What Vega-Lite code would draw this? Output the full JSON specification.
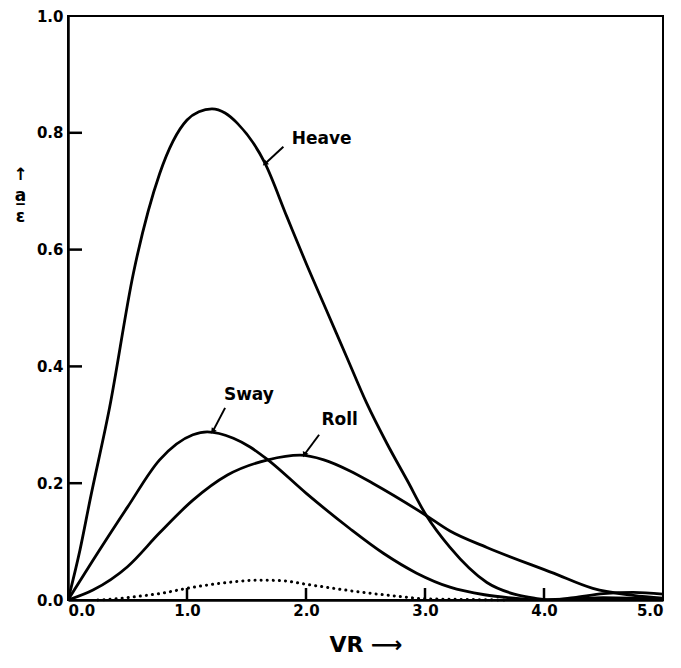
{
  "$schema": "https://vega.github.io/schema/vega-lite/v6.json",
  "width": 595,
  "height": 584,
  "autosize": {"type": "none"},
  "padding": {"left": 68, "top": 16, "right": 18, "bottom": 68},
  "background": "white",
  "config": {
    "view": {"stroke": "black", "strokeWidth": 2},
    "font": "DejaVu Sans",
    "axis": {
      "grid": false,
      "domainColor": "black",
      "domainWidth": 2.5,
      "tickColor": "black",
      "tickWidth": 2,
      "labelColor": "black",
      "labelFont": "DejaVu Sans",
      "labelFontWeight": "bold",
      "labelFontSize": 15,
      "titleColor": "black",
      "titleFont": "DejaVu Sans",
      "titleFontWeight": "bold"
    }
  },
  "datasets": {
    "curves": [
      {"series": "Heave", "vr": 0.0, "v": 0.0},
      {"series": "Heave", "vr": 0.1, "v": 0.085},
      {"series": "Heave", "vr": 0.185, "v": 0.171},
      {"series": "Heave", "vr": 0.35, "v": 0.33},
      {"series": "Heave", "vr": 0.55, "v": 0.56},
      {"series": "Heave", "vr": 0.77, "v": 0.73},
      {"series": "Heave", "vr": 1.0, "v": 0.822},
      {"series": "Heave", "vr": 1.1, "v": 0.836},
      {"series": "Heave", "vr": 1.21, "v": 0.841},
      {"series": "Heave", "vr": 1.32, "v": 0.834},
      {"series": "Heave", "vr": 1.42, "v": 0.817},
      {"series": "Heave", "vr": 1.655, "v": 0.748},
      {"series": "Heave", "vr": 1.84, "v": 0.656},
      {"series": "Heave", "vr": 2.0, "v": 0.577},
      {"series": "Heave", "vr": 2.17, "v": 0.497},
      {"series": "Heave", "vr": 2.34, "v": 0.417},
      {"series": "Heave", "vr": 2.51, "v": 0.337},
      {"series": "Heave", "vr": 2.68, "v": 0.268},
      {"series": "Heave", "vr": 2.85, "v": 0.205},
      {"series": "Heave", "vr": 3.01, "v": 0.145},
      {"series": "Heave", "vr": 3.21, "v": 0.09},
      {"series": "Heave", "vr": 3.52, "v": 0.03},
      {"series": "Heave", "vr": 3.75, "v": 0.01},
      {"series": "Heave", "vr": 3.92, "v": 0.003},
      {"series": "Heave", "vr": 4.05, "v": 0.0},
      {"series": "Heave", "vr": 4.25, "v": 0.004},
      {"series": "Heave", "vr": 4.5, "v": 0.011},
      {"series": "Heave", "vr": 4.75, "v": 0.013},
      {"series": "Heave", "vr": 5.0, "v": 0.01},
      {"series": "Sway", "vr": 0.0, "v": 0.0},
      {"series": "Sway", "vr": 0.21, "v": 0.068},
      {"series": "Sway", "vr": 0.5, "v": 0.159},
      {"series": "Sway", "vr": 0.77, "v": 0.24},
      {"series": "Sway", "vr": 1.05, "v": 0.283},
      {"series": "Sway", "vr": 1.17, "v": 0.288},
      {"series": "Sway", "vr": 1.39, "v": 0.277},
      {"series": "Sway", "vr": 1.53, "v": 0.262},
      {"series": "Sway", "vr": 1.68, "v": 0.24},
      {"series": "Sway", "vr": 2.0, "v": 0.183},
      {"series": "Sway", "vr": 2.37, "v": 0.122},
      {"series": "Sway", "vr": 2.65, "v": 0.08},
      {"series": "Sway", "vr": 2.93, "v": 0.046},
      {"series": "Sway", "vr": 3.21, "v": 0.022},
      {"series": "Sway", "vr": 3.5, "v": 0.009},
      {"series": "Sway", "vr": 3.75, "v": 0.003},
      {"series": "Sway", "vr": 3.95, "v": 0.0},
      {"series": "Sway", "vr": 4.25, "v": 0.002},
      {"series": "Sway", "vr": 4.5, "v": 0.004},
      {"series": "Sway", "vr": 4.75, "v": 0.003},
      {"series": "Sway", "vr": 5.0, "v": 0.001},
      {"series": "Roll", "vr": 0.0, "v": 0.0},
      {"series": "Roll", "vr": 0.21, "v": 0.017},
      {"series": "Roll", "vr": 0.5, "v": 0.057},
      {"series": "Roll", "vr": 0.77, "v": 0.115},
      {"series": "Roll", "vr": 1.05, "v": 0.171},
      {"series": "Roll", "vr": 1.34, "v": 0.214},
      {"series": "Roll", "vr": 1.68, "v": 0.24},
      {"series": "Roll", "vr": 1.95, "v": 0.248},
      {"series": "Roll", "vr": 2.15, "v": 0.24},
      {"series": "Roll", "vr": 2.37, "v": 0.221},
      {"series": "Roll", "vr": 2.56, "v": 0.2},
      {"series": "Roll", "vr": 3.0, "v": 0.146},
      {"series": "Roll", "vr": 3.21, "v": 0.118},
      {"series": "Roll", "vr": 3.52, "v": 0.09},
      {"series": "Roll", "vr": 4.08, "v": 0.046},
      {"series": "Roll", "vr": 4.41, "v": 0.02},
      {"series": "Roll", "vr": 4.75, "v": 0.008},
      {"series": "Roll", "vr": 5.0, "v": 0.003},
      {"series": "Dotted", "vr": 0.25, "v": 0.0},
      {"series": "Dotted", "vr": 0.4, "v": 0.002},
      {"series": "Dotted", "vr": 0.58, "v": 0.006},
      {"series": "Dotted", "vr": 0.8, "v": 0.012},
      {"series": "Dotted", "vr": 1.0, "v": 0.02},
      {"series": "Dotted", "vr": 1.34, "v": 0.03},
      {"series": "Dotted", "vr": 1.6, "v": 0.034},
      {"series": "Dotted", "vr": 1.8, "v": 0.033},
      {"series": "Dotted", "vr": 2.0, "v": 0.027},
      {"series": "Dotted", "vr": 2.37, "v": 0.016},
      {"series": "Dotted", "vr": 2.79, "v": 0.006},
      {"series": "Dotted", "vr": 3.0, "v": 0.002},
      {"series": "Dotted", "vr": 3.3, "v": 0.001},
      {"series": "Dotted", "vr": 3.7, "v": 0.0}
    ],
    "labels": [
      {"label": "Heave", "x": 1.88, "y": 0.79},
      {"label": "Sway", "x": 1.31, "y": 0.351},
      {"label": "Roll", "x": 2.13, "y": 0.308}
    ],
    "arrows": [
      {"label": "Heave", "x": 1.81, "y": 0.776, "x2": 1.66, "y2": 0.748},
      {"label": "Sway", "x": 1.32, "y": 0.329, "x2": 1.22, "y2": 0.29},
      {"label": "Roll", "x": 2.11, "y": 0.283, "x2": 1.99, "y2": 0.25}
    ],
    "xticks": [{"t": 1, "base": 0}, {"t": 2, "base": 0}, {"t": 3, "base": 0}, {"t": 4, "base": 0}],
    "yticks": [{"t": 0.2, "base": 0}, {"t": 0.4, "base": 0}, {"t": 0.6, "base": 0}, {"t": 0.8, "base": 0}]
  },
  "layer": [
    {
      "data": {"name": "curves"},
      "transform": [{"filter": "datum.series !== 'Dotted'"}],
      "mark": {"type": "line", "color": "black", "strokeWidth": 2.8, "interpolate": "monotone", "clip": true},
      "encoding": {
        "x": {"field": "vr", "type": "quantitative", "scale": {"domain": [0, 5], "nice": false},
          "axis": {"values": [0, 1, 2, 3, 4, 5], "format": ".1f", "ticks": false, "labelPadding": 3, "title": "VR ⟶", "titleFontSize": 22, "titlePadding": 16}},
        "y": {"field": "v", "type": "quantitative", "scale": {"domain": [0, 1], "nice": false},
          "axis": {"values": [0, 0.2, 0.4, 0.6, 0.8, 1.0], "format": ".1f", "ticks": false, "labelPadding": 5,
            "title": ["↑", "a̲", "ε"], "titleAngle": 0, "titleFontSize": 17, "titleLineHeight": 21,
            "titleX": -48, "titleY": 150, "titleAlign": "center", "titleBaseline": "top"}},
        "detail": {"field": "series"}
      }
    },
    {
      "data": {"name": "curves"},
      "transform": [{"filter": "datum.series === 'Dotted'"}],
      "mark": {"type": "line", "color": "black", "strokeWidth": 3, "strokeDash": [0.1, 6], "strokeCap": "round", "interpolate": "monotone"},
      "encoding": {
        "x": {"field": "vr", "type": "quantitative"},
        "y": {"field": "v", "type": "quantitative"}
      }
    },
    {
      "data": {"name": "xticks"},
      "mark": {"type": "tick", "orient": "vertical", "color": "black", "thickness": 2.5, "size": 12, "yOffset": -6, "opacity": 1},
      "encoding": {
        "x": {"field": "t", "type": "quantitative"},
        "y": {"field": "base", "type": "quantitative"}
      }
    },
    {
      "data": {"name": "yticks"},
      "mark": {"type": "tick", "orient": "horizontal", "color": "black", "thickness": 2.5, "size": 14, "xOffset": 7, "opacity": 1},
      "encoding": {
        "y": {"field": "t", "type": "quantitative"},
        "x": {"field": "base", "type": "quantitative"}
      }
    },
    {
      "data": {"name": "arrows"},
      "mark": {"type": "rule", "color": "black", "strokeWidth": 2},
      "encoding": {
        "x": {"field": "x", "type": "quantitative"},
        "y": {"field": "y", "type": "quantitative"},
        "x2": {"field": "x2"},
        "y2": {"field": "y2"}
      }
    },
    {
      "data": {"name": "arrows"},
      "mark": {"type": "point", "shape": "triangle", "filled": true, "color": "black", "size": 40, "opacity": 1},
      "encoding": {
        "x": {"field": "x2", "type": "quantitative"},
        "y": {"field": "y2", "type": "quantitative"},
        "angle": {"field": "label", "type": "nominal", "scale": {"domain": ["Heave", "Sway", "Roll"], "range": [228, 207, 215]}, "legend": null}
      }
    },
    {
      "data": {"name": "labels"},
      "mark": {"type": "text", "font": "DejaVu Sans", "fontWeight": "bold", "fontSize": 17, "align": "left", "baseline": "middle", "color": "black"},
      "encoding": {
        "x": {"field": "x", "type": "quantitative"},
        "y": {"field": "y", "type": "quantitative"},
        "text": {"field": "label"}
      }
    }
  ]
}
